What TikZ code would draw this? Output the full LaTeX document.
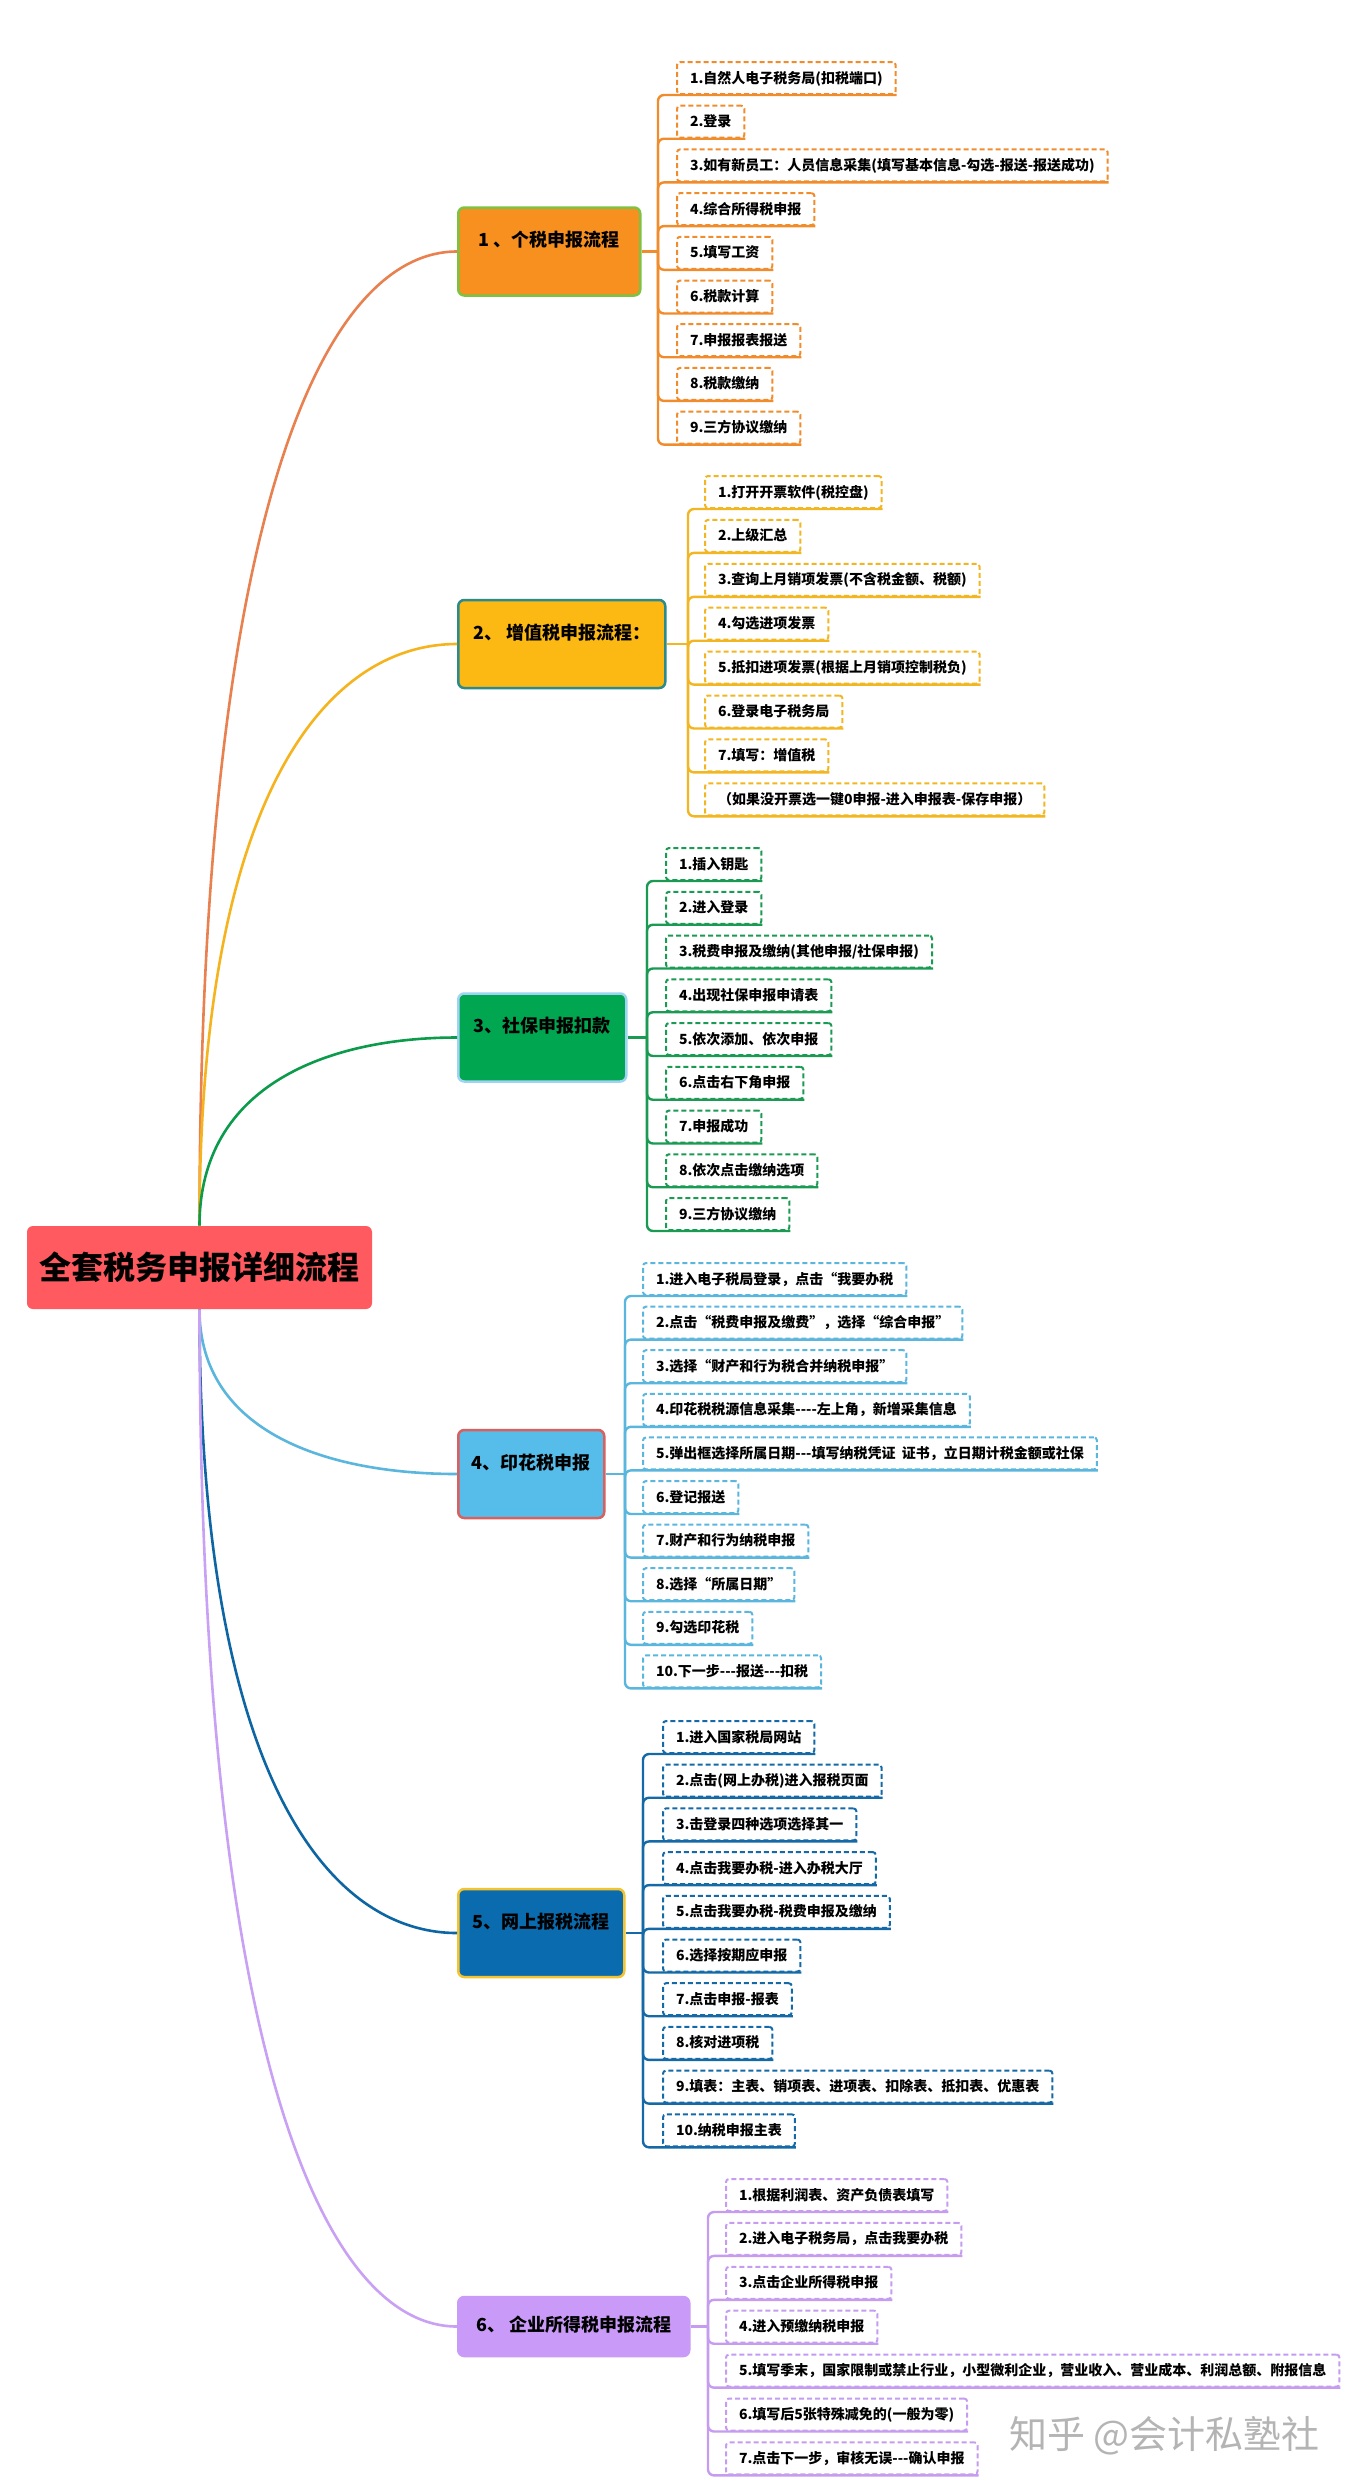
\documentclass[tikz,border=0pt]{standalone}
\usepackage{fontspec}
\newfontfamily\cjk{Noto Sans CJK SC}[Ligatures=TeXOff]
\usepackage{tikz}
\usetikzlibrary{calc}
\definecolor{rootred}{HTML}{FF5A5F}
\definecolor{boxA}{HTML}{F7901E}
\definecolor{rimA}{HTML}{7DC242}
\definecolor{boxB}{HTML}{FCB813}
\definecolor{rimB}{HTML}{2D8A8A}
\definecolor{boxC}{HTML}{00A650}
\definecolor{rimC}{HTML}{9DD4F2}
\definecolor{boxD}{HTML}{56BDEA}
\definecolor{rimD}{HTML}{D9605E}
\definecolor{boxE}{HTML}{0A6CAE}
\definecolor{rimE}{HTML}{F4C430}
\definecolor{boxF}{HTML}{C99AF7}
\definecolor{lineA}{HTML}{E8804F}
\definecolor{lineB}{HTML}{F5B41E}
\definecolor{lineC}{HTML}{0B9B4B}
\definecolor{lineD}{HTML}{5BB6DE}
\definecolor{lineE}{HTML}{0D66A3}
\definecolor{lineF}{HTML}{C9A1F4}
\definecolor{leafA}{HTML}{F08C2C}
\definecolor{leafB}{HTML}{F2B622}
\definecolor{leafC}{HTML}{1A9A52}
\definecolor{leafD}{HTML}{5AB6DD}
\definecolor{leafE}{HTML}{1569A6}
\definecolor{leafF}{HTML}{C59CEF}
\definecolor{wmgray}{HTML}{B4B4B4}

\begin{document}
\begin{tikzpicture}[x=0.5pt, y=-0.5pt, font=\cjk\bfseries,
        rootbox/.style={fill=rootred, rounded corners=3pt, minimum width=172.5pt, minimum height=41.5pt,
          font=\cjk\bfseries\fontsize{16}{18}\selectfont},
        mainbox/.style 2 args={fill=#1, draw=#2, line width=1.25pt, rounded corners=3pt, anchor=west,
          minimum height=44pt, text height=7pt, text depth=12pt, font=\cjk\bfseries\fontsize{9}{10}\selectfont},
        leaf/.style={draw=#1, dash pattern=on 2.5pt off 1.5pt, line width=1pt, fill=white, rounded corners=1.5pt,
          anchor=north west, inner xsep=6.5pt, inner ysep=0pt, minimum height=16pt, text height=6.5pt,
          text depth=1.5pt, font=\cjk\bfseries\fontsize{7}{8}\selectfont},
        branch/.style={draw=#1, line width=1.3pt},
        under/.style={draw=#1, line width=1.2pt, rounded corners=3pt}]
        \fill[white] (0,0) rectangle (1355,2491);
        \useasboundingbox (0,0) rectangle (1355,2491);

        \node[rootbox] (root) at (199.5,1267.5) {全套税务申报详细流程};

        \node[mainbox={boxA}{rimA}, minimum width=91pt] (m1) at (457,251.5) {1 、个税申报流程};
        \node[mainbox={boxB}{rimB}, minimum width=103.5pt] (m2) at (457,644) {2、 增值税申报流程：};
        \node[mainbox={boxC}{rimC}, minimum width=84pt] (m3) at (457,1037.5) {3、社保申报扣款};
        \node[mainbox={boxD}{rimD}, minimum width=73pt] (m4) at (457,1474) {4、印花税申报};
        \node[mainbox={boxE}{rimE}, minimum width=83pt] (m5) at (457,1933) {5、网上报税流程};
        \node[mainbox={boxF}{boxF}, minimum width=115.5pt, minimum height=29.5pt, text depth=2pt] (m6) at (457,2326.5) {6、 企业所得税申报流程};

        \draw[branch=lineA] (root.north) .. controls +(0,-731) and +(-128,0) .. (m1.west);
        \draw[branch=lineB] (root.north) .. controls +(0,-436) and +(-128,0) .. (m2.west);
        \draw[branch=lineC] (root.north) .. controls +(0,-141) and +(-128,0) .. (m3.west);
        \draw[branch=lineD] (root.south) .. controls +(0,124) and +(-128,0) .. (m4.west);
        \draw[branch=lineE] (root.south) .. controls +(0,468) and +(-128,0) .. (m5.west);
        \draw[branch=lineF] (root.south) .. controls +(0,763) and +(-128,0) .. (m6.west);

        \coordinate (j1) at (658,251.5);
        \draw[under=leafA] (m1.east) -- (j1);
        \foreach \t [count=\i] in {1.自然人电子税务局(扣税端口), 2.登录,
            3.如有新员工：人员信息采集(填写基本信息-勾选-报送-报送成功), 4.综合所得税申报, 5.填写工资,
            6.税款计算, 7.申报报表报送, 8.税款缴纳, 9.三方协议缴纳}{
          \node[leaf=leafA] (a\i) at (676,{61+43.7*(\i-1)}) {\t};
          \draw[under=leafA] (j1) |- (a\i.south east);
        }

        \coordinate (j2) at (688,644);
        \draw[under=leafB] (m2.east) -- (j2);
        \foreach \t [count=\i] in {1.打开开票软件(税控盘), 2.上级汇总, 3.查询上月销项发票(不含税金额、税额),
            4.勾选进项发票, 5.抵扣进项发票(根据上月销项控制税负), 6.登录电子税务局, 7.填写：增值税,
            （如果没开票选一键0申报-进入申报表-保存申报）}{
          \node[leaf=leafB] (b\i) at (704,{475+43.9*(\i-1)}) {\t};
          \draw[under=leafB] (j2) |- (b\i.south east);
        }

        \coordinate (j3) at (647,1037.5);
        \draw[under=leafC] (m3.east) -- (j3);
        \foreach \t [count=\i] in {1.插入钥匙, 2.进入登录, 3.税费申报及缴纳(其他申报/社保申报),
            4.出现社保申报申请表, 5.依次添加、依次申报, 6.点击右下角申报, 7.申报成功,
            8.依次点击缴纳选项, 9.三方协议缴纳}{
          \node[leaf=leafC] (c\i) at (665,{847+43.75*(\i-1)}) {\t};
          \draw[under=leafC] (j3) |- (c\i.south east);
        }

        \coordinate (j4) at (625,1474);
        \draw[under=leafD] (m4.east) -- (j4);
        \foreach \t [count=\i] in {1.进入电子税局登录，点击“我要办税, 2.点击“税费申报及缴费”，选择“综合申报”,
            3.选择“财产和行为税合并纳税申报”, 4.印花税税源信息采集----左上角，新增采集信息,
            5.弹出框选择所属日期---填写纳税凭证~~证书，立日期计税金额或社保, 6.登记报送,
            7.财产和行为纳税申报, 8.选择“所属日期”, 9.勾选印花税, 10.下一步---报送---扣税}{
          \node[leaf=leafD] (d\i) at (642,{1262+43.6*(\i-1)}) {\t};
          \draw[under=leafD] (j4) |- (d\i.south east);
        }

        \coordinate (j5) at (643,1933);
        \draw[under=leafE] (m5.east) -- (j5);
        \foreach \t [count=\i] in {1.进入国家税局网站, 2.点击(网上办税)进入报税页面, 3.击登录四种选项选择其一,
            4.点击我要办税-进入办税大厅, 5.点击我要办税-税费申报及缴纳, 6.选择按期应申报, 7.点击申报-报表,
            8.核对进项税, 9.填表：主表、销项表、进项表、扣除表、抵扣表、优惠表, 10.纳税申报主表}{
          \node[leaf=leafE] (e\i) at (662,{1720+43.7*(\i-1)}) {\t};
          \draw[under=leafE] (j5) |- (e\i.south east);
        }

        \coordinate (j6) at (708,2326.5);
        \draw[under=leafF] (m6.east) -- (j6);
        \foreach \t [count=\i] in {1.根据利润表、资产负债表填写, 2.进入电子税务局，点击我要办税, 3.点击企业所得税申报,
            4.进入预缴纳税申报, 5.填写季末，国家限制或禁止行业，小型微利企业，营业收入、营业成本、利润总额、附报信息,
            6.填写后5张特殊减免的(一般为零), 7.点击下一步，审核无误---确认申报}{
          \node[leaf=leafF] (f\i) at (725,{2178+43.9*(\i-1)}) {\t};
          \draw[under=leafF] (j6) |- (f\i.south east);
        }

        \node[text=wmgray, anchor=east, font=\cjk\fontsize{19}{22}\selectfont] (wm) at (1327,2436) {知乎 @会计私塾社};
      \end{tikzpicture}
\end{document}
